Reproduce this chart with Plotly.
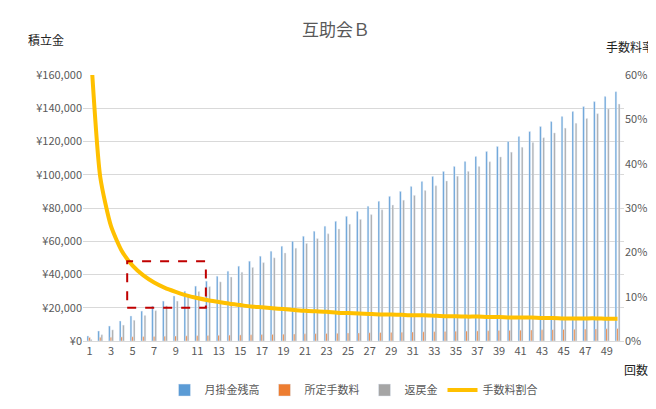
import plotly.graph_objects as go

periods = list(range(1, 51))
balance = [3000, 6000, 9000, 12000, 15000, 18000, 21000, 24000, 27000, 30000,
           33000, 36000, 39000, 42000, 45000, 48000, 51000, 54000, 57000, 60000,
           63000, 66000, 69000, 72000, 75000, 78000, 81000, 84000, 87000, 90000,
           93000, 96000, 99000, 102000, 105000, 108000, 111000, 114000, 117000, 120000,
           123000, 126000, 129000, 132000, 135000, 138000, 141000, 144000, 147000, 150000]
fee = [2110, 2220, 2330, 2440, 2550, 2660, 2770, 2880, 2990, 3100,
       3210, 3320, 3430, 3540, 3650, 3760, 3870, 3980, 4090, 4200,
       4310, 4420, 4530, 4640, 4750, 4860, 4970, 5080, 5190, 5300,
       5410, 5520, 5630, 5740, 5850, 5960, 6070, 6180, 6290, 6400,
       6510, 6620, 6730, 6840, 6950, 7060, 7170, 7280, 7390, 7500]
refund = [890, 3780, 6670, 9560, 12450, 15340, 18230, 21120, 24010, 26900,
          29790, 32680, 35570, 38460, 41350, 44240, 47130, 50020, 52910, 55800,
          58690, 61580, 64470, 67360, 70250, 73140, 76030, 78920, 81810, 84700,
          87590, 90480, 93370, 96260, 99150, 102040, 104930, 107820, 110710, 113600,
          116490, 119380, 122270, 125160, 128050, 130940, 133830, 136720, 139610, 142500]
rate = [0.703, 0.370, 0.259, 0.203, 0.170, 0.148, 0.132, 0.120, 0.111, 0.103,
        0.097, 0.092, 0.088, 0.084, 0.081, 0.078, 0.076, 0.074, 0.072, 0.070,
        0.068, 0.067, 0.066, 0.064, 0.063, 0.062, 0.061, 0.060, 0.060, 0.059,
        0.058, 0.058, 0.057, 0.056, 0.056, 0.055, 0.055, 0.054, 0.054, 0.053,
        0.053, 0.053, 0.052, 0.052, 0.051, 0.051, 0.051, 0.051, 0.050, 0.050]
xticks = list(range(1, 51, 2))

font = "Noto Sans CJK JP"
grey = "#595959"

fig = go.Figure()
fig.add_bar(x=periods, y=balance, name="月掛金残高", marker_color="#5B9BD5")
fig.add_bar(x=periods, y=fee, name="所定手数料", marker_color="#ED7D31")
fig.add_bar(x=periods, y=refund, name="返戻金", marker_color="#A5A5A5")
fig.add_scatter(x=periods, y=rate, name="手数料割合", yaxis="y2", mode="lines",
                line=dict(color="#FFC000", width=4, shape="spline", smoothing=0.6))

fig.add_shape(type="rect", xref="x", yref="y2", x0=4.5, x1=11.8, y0=0.075, y1=0.18,
              line=dict(color="#C00000", width=2, dash="dash"))

fig.update_layout(
    width=656, height=409, paper_bgcolor="white", plot_bgcolor="white",
    font=dict(family=font, color=grey, size=11),
    margin=dict(l=75, r=40, t=67, b=69),
    title=dict(text="互助会Ｂ", x=0.5, xanchor="center", y=0.96, yanchor="top",
               font=dict(size=17, color=grey)),
    barmode="group", bargap=0.55, bargroupgap=0.0,
    xaxis=dict(tickmode="array", tickvals=xticks, range=[0.4, 50.6], showgrid=False,
               showline=True, linecolor="#D9D9D9", ticks="", tickfont=dict(size=11)),
    yaxis=dict(range=[0, 160000], dtick=20000, tickprefix="¥", tickformat=",",
               gridcolor="#D9D9D9", zeroline=False, tickfont=dict(size=11)),
    yaxis2=dict(range=[0, 0.6], dtick=0.1, tickformat=".0%", overlaying="y", side="right",
                showgrid=False, zeroline=False, tickfont=dict(size=11)),
    legend=dict(orientation="h", x=0.5, xanchor="center", y=-0.13, yanchor="top",
                font=dict(size=11), traceorder="normal"),
    annotations=[
        dict(text="積立金", xref="paper", yref="paper", x=0, y=1, xshift=-57, yshift=25,
             showarrow=False, xanchor="left", yanchor="bottom", font=dict(size=12, color="#222")),
        dict(text="手数料率", xref="paper", yref="paper", x=1, y=1, xshift=32, yshift=18,
             showarrow=False, xanchor="right", yanchor="bottom", font=dict(size=12, color="#222")),
        dict(text="回数", xref="paper", yref="paper", x=1, y=0, xshift=-2, yshift=-18,
             showarrow=False, xanchor="left", yanchor="top", font=dict(size=12, color="#222")),
    ],
)
fig.write_html("out.html")
